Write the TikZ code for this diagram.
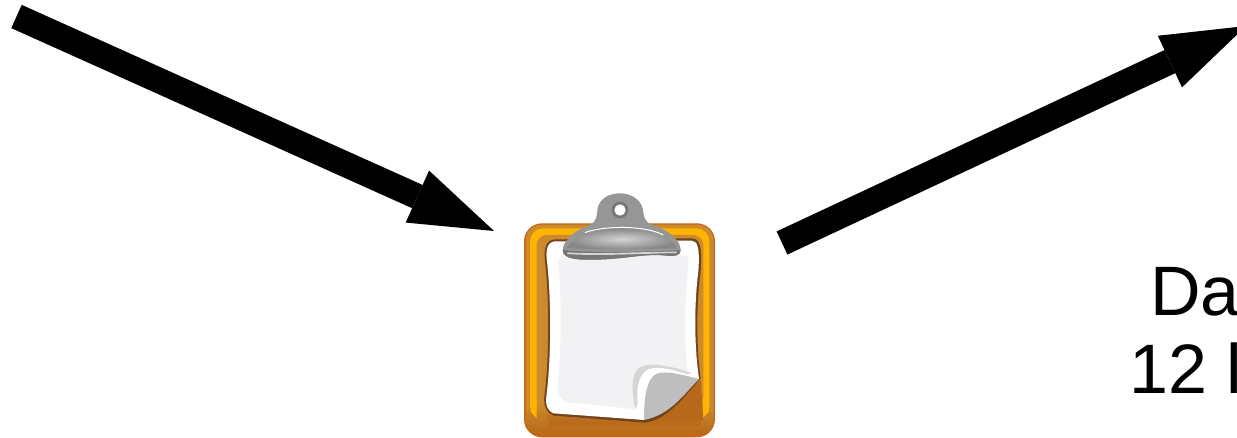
\documentclass[tikz,border=0pt]{standalone}
\usepackage{xcolor}
\usepackage{fontspec}
\usepackage{tikz}
\usetikzlibrary{arrows.meta, positioning, calc}
\setmainfont{Liberation Sans}
\definecolor{myrim}{RGB}{200,98,20}
\definecolor{myochre}{RGB}{203,138,44}
\definecolor{myyellow}{RGB}{255,180,0}
\definecolor{mybrown}{RGB}{184,104,26}
\definecolor{myedge}{RGB}{115,68,28}
\definecolor{mypanel}{RGB}{242,241,243}
\definecolor{myfold}{RGB}{214,214,214}
\definecolor{mycurl}{RGB}{190,190,190}
\definecolor{mysteel}{RGB}{150,150,150}
\definecolor{mysteeldark}{RGB}{118,118,118}
\definecolor{mysteellight}{RGB}{212,212,212}
\tikzset{
  bigarrow/.style={-{Triangle[length=84pt, width=57pt, line width=0pt]}, line width=25.5pt, color=black},
  biglabel/.style={anchor=base west, inner sep=0pt, font=\fontsize{70}{77}\selectfont, text=black},
  boardlayer/.style={rectangle, rounded corners=#1}
}

\begin{document}
\begin{tikzpicture}[x=1pt, y=-1pt]
  \clip (0,0) rectangle (1237,438);
  \fill[white] (0,0) rectangle (1237,438);

  \coordinate (intail) at (16.5,16.5);
  \coordinate (intip) at (494,231);
  \coordinate (outtail) at (782,243);
  \coordinate (outtip) at (1246,26);
  \draw[bigarrow] (intail) -- (intip);
  \draw[bigarrow] (outtail) -- (outtip);

  \node[biglabel] (datalabel) at (1150,316) {Da};
  \node[biglabel] (countlabel) at (1129,393) {12 l};

  \begin{scope}[shift={(510,185)}, x=0.3333pt, y=-0.3333pt]
    % board
    \fill[myrim, boardlayer=18pt] (42,115) rectangle (615,757);
    \fill[myochre, boardlayer=16pt] (47,119) rectangle (611,748);
    \fill[myyellow, boardlayer=13pt] (60,130) rectangle (598,720);
    \fill[myochre, boardlayer=10pt] (80,150) rectangle (580,722);
    \shade[top color=myochre, bottom color=mybrown, boardlayer=12pt] (47,660) rectangle (611,748);
    \fill[myyellow] (62,640) -- (80,640) -- (80,700) -- (62,680) -- cycle;
    \fill[myyellow] (578,640) -- (597,640) -- (597,680) -- (578,700) -- cycle;
    \shade[top color=mybrown!70!myochre, bottom color=mybrown] (110,690) .. controls (250,705) and (450,715) .. (578,690)
      -- (570,722) -- (120,722) -- cycle;
    \fill[mybrown] (400,708) -- (572,585) -- (580,705) -- cycle;
    % paper
    \fill[myedge] (135,163) -- (545,160)
      .. controls (570,160) and (577,185) .. (572,260)
      .. controls (560,350) and (558,480) .. (572,580)
      .. controls (520,640) and (470,705) .. (405,713)
      -- (130,692) .. controls (110,685) and (100,660) .. (103,635)
      .. controls (118,520) and (118,340) .. (105,230)
      .. controls (100,190) and (108,165) .. (135,163) -- cycle;
    \fill[white] (135,169) -- (545,167)
      .. controls (563,167) and (570,190) .. (565,260)
      .. controls (553,350) and (552,480) .. (567,580)
      -- (402,705) -- (130,685)
      .. controls (115,680) and (105,660) .. (109,635)
      .. controls (124,520) and (124,340) .. (111,230)
      .. controls (106,195) and (112,171) .. (135,169) -- cycle;
    \fill[mypanel] (160,212) -- (525,212) .. controls (536,212) and (538,225) .. (535,245)
      .. controls (525,340) and (522,450) .. (532,562)
      -- (400,545) -- (372,672) -- (175,652)
      .. controls (150,645) and (140,625) .. (143,600)
      .. controls (155,480) and (155,340) .. (145,240)
      .. controls (144,222) and (150,212) .. (160,212) -- cycle;
    % page corner
    \fill[myfold] (376,672) .. controls (365,620) and (362,575) .. (385,550)
      .. controls (410,530) and (480,540) .. (545,565) -- (420,590) -- cycle;
    \fill[white] (385,672) .. controls (378,620) and (382,570) .. (415,553)
      .. controls (450,540) and (510,560) .. (567,580) -- (420,660) -- (402,705) -- cycle;
    \fill[mycurl] (402,705) .. controls (402,660) and (405,600) .. (428,575)
      .. controls (450,550) and (510,568) .. (567,582)
      .. controls (520,630) and (480,690) .. (402,705) -- cycle;
    % clip
    \fill[mysteel] (158,195) .. controls (160,160) and (205,132) .. (235,122)
      .. controls (262,112) and (260,92) .. (263,70)
      .. controls (270,35) and (305,25) .. (330,25)
      .. controls (365,25) and (394,45) .. (399,75)
      .. controls (402,95) and (402,110) .. (428,120)
      .. controls (475,135) and (512,165) .. (512,195)
      .. controls (512,212) and (495,215) .. (470,212)
      .. controls (400,205) and (350,222) .. (260,224)
      .. controls (210,225) and (158,225) .. (158,195) -- cycle;
    \fill[mysteeldark] (158,195) .. controls (158,225) and (210,225) .. (260,224)
      .. controls (350,222) and (400,205) .. (470,212)
      .. controls (495,215) and (512,212) .. (512,195)
      .. controls (440,200) and (250,205) .. (158,195) -- cycle;
    \shade[inner color=mysteellight, outer color=mysteel!90!black] (170,190)
      .. controls (190,152) and (260,130) .. (330,130)
      .. controls (400,130) and (480,152) .. (502,190)
      .. controls (400,192) and (260,194) .. (170,190) -- cycle;
    \fill[mysteellight] (172,202) .. controls (260,208) and (400,200) .. (500,200)
      -- (500,204) .. controls (400,206) and (260,214) .. (172,207) -- cycle;
    \draw[white, line width=1pt] (225,143) .. controls (270,124) and (400,118) .. (460,150);
    \fill[mysteeldark] (330,75) circle (25);
    \fill[white] (330,75) circle (17);
  \end{scope}
\end{tikzpicture}
\end{document}
